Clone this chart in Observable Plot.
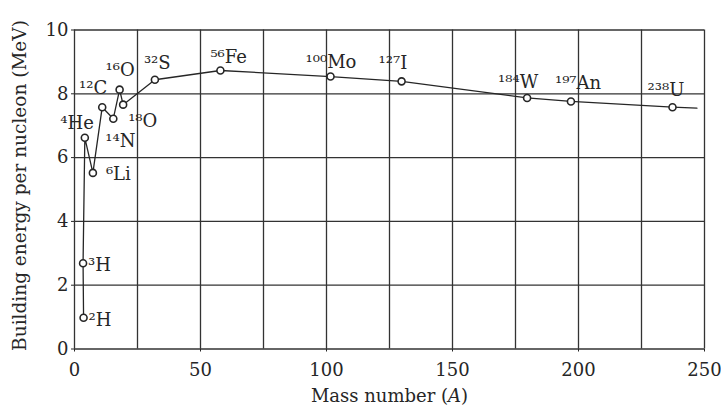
<!DOCTYPE html>
<html>
<head>
<meta charset="utf-8">
<script src="https://cdn.jsdelivr.net/npm/d3@7"></script>
<script src="https://cdn.jsdelivr.net/npm/@observablehq/plot@0.6"></script>
<style>
  html, body { margin: 0; padding: 0; background: #fff; }
</style>
</head>
<body>
<div id="chart"></div>
<script>
// Nuclides
const nuclides = ["²H", "³H", "⁴He", "⁶Li", "¹²C", "¹⁴N", "¹⁶O", "¹⁸O", "³²S", "⁵⁶Fe", "¹⁰⁰Mo", "¹²⁷I", "¹⁸⁴W", "¹⁹⁷An", "²³⁸U"];
const massNumber = [3.6, 3.4, 4.1, 7.3, 11, 15.4, 17.9, 19.3, 31.9, 57.9, 101.6, 129.8, 179.6, 197, 237.3];
const bindingEnergy = [0.98, 2.69, 6.62, 5.52, 7.58, 7.22, 8.13, 7.66, 8.44, 8.73, 8.54, 8.39, 7.87, 7.76, 7.58];
// curve continues a little beyond U
const tailA = [247];
const tailBE = [7.55];

const xTicks = [0, 50, 100, 150, 200, 250];
const yTicks = [0, 2, 4, 6, 8, 10];
const xGrid = [0, 25, 50, 75, 100, 125, 150, 175, 200, 225, 250];
const yGrid = [0, 2, 4, 6, 8, 10];

// label offsets (style only)
const labelDx = [5, 5, 9, 13, 5, -8, -14, 5, -11, -10, -25, -23, -29, -16, -25];
const labelDy = [2, 2, -15, 1, -19, 23, -19, 17, -17, -13, -14, -18, -16, -18, -17];
const labelAnchor = ["start", "start", "end", "start", "end", "start", "start", "start", "start", "start", "start", "start", "start", "start", "start"];

const points = nuclides.map((n, i) => ({name: n, A: massNumber[i], BE: bindingEnergy[i], dx: labelDx[i], dy: labelDy[i], anchor: labelAnchor[i]}));
const linePts = points.concat(tailA.map((a, i) => ({A: a, BE: tailBE[i]})));

const ink = "#262626";
const font = "DejaVu Serif, Liberation Serif, serif";

const labelMarks = points.map(p => Plot.text([p], {
  x: "A", y: "BE", text: "name",
  dx: p.dx, dy: p.dy, textAnchor: p.anchor,
  fontSize: 18, fill: ink, fontFamily: font
}));

const chart = Plot.plot({
  width: 721,
  height: 419,
  marginLeft: 74,
  marginRight: 17,
  marginTop: 29.5,
  marginBottom: 70.5,
  style: {background: "#fff", fontFamily: font, color: ink},
  x: {domain: [0, 250]},
  y: {domain: [0, 10]},
  marks: [
    Plot.ruleX(xGrid, {stroke: "#333", strokeWidth: 1.3}),
    Plot.ruleY(yGrid, {stroke: "#333", strokeWidth: 1.3}),
    Plot.axisX({ticks: xTicks, tickSize: 3, tickPadding: 11, fontSize: 18, label: null, stroke: ink, fill: ink}),
    Plot.axisY({ticks: yTicks, tickSize: 3, tickPadding: 3, fontSize: 18, label: null, stroke: ink, fill: ink}),
    Plot.line(linePts, {x: "A", y: "BE", stroke: ink, strokeWidth: 1.3}),
    Plot.dot(points, {x: "A", y: "BE", r: 3.5, stroke: ink, strokeWidth: 1.6, fill: "#fff"}),
    ...labelMarks,
    Plot.text(["Mass number (A)"], {frameAnchor: "bottom", dy: 53, textAnchor: "middle", fontSize: 18, fill: ink, fontFamily: font}),
    Plot.text(["Building energy per nucleon (MeV)"], {frameAnchor: "left", textAnchor: "middle", dx: -54, dy: -4, rotate: -90, fontSize: 18.5, fill: ink, fontFamily: font})
  ]
});

d3.select(chart).selectAll("text").filter(function () { return this.textContent === "Mass number (A)"; })
  .html('Mass number (<tspan font-style="italic">A</tspan>)');

document.getElementById("chart").appendChild(chart);
</script>
</body>
</html>
